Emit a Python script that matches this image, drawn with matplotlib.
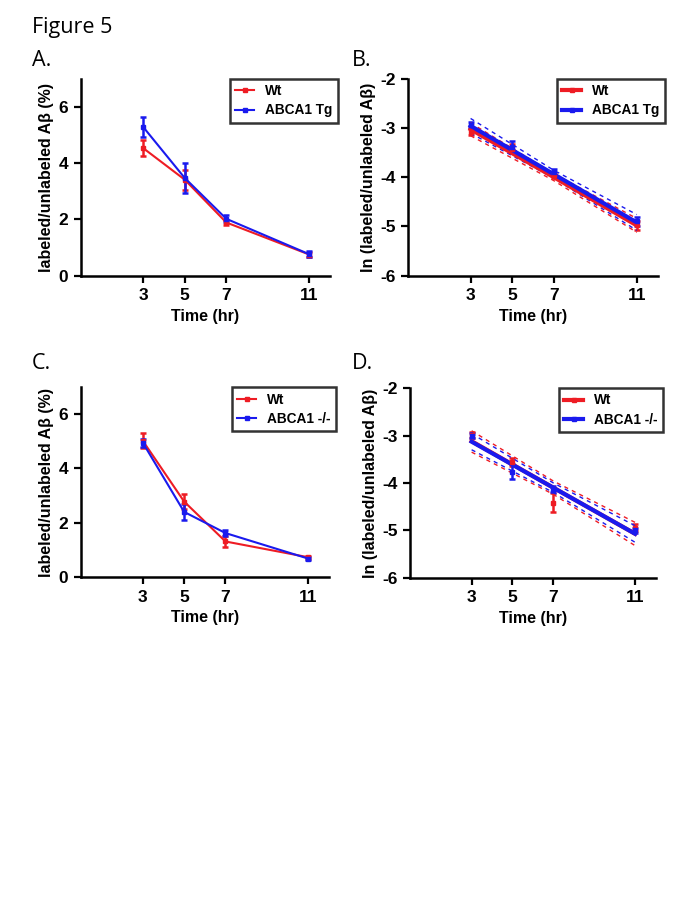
import matplotlib.pyplot as plt
from matplotlib.lines import Line2D

plt.rcParams['font.family'] = ['Liberation Sans', 'DejaVu Sans']
plt.rcParams['axes.unicode_minus'] = False

# time points
hours = [3, 5, 7, 11]

# A: % labeled/unlabeled, Wt vs ABCA1 Tg
a_wt = [4.53, 3.41, 1.89, 0.75]
a_wt_err = [0.28, 0.35, 0.10, 0.08]
a_tg = [5.28, 3.47, 2.02, 0.76]
a_tg_err = [0.34, 0.53, 0.13, 0.10]

# B: ln values, Wt vs ABCA1 Tg
b_wt = [-3.08, -3.42, -3.96, -4.98]
b_wt_err = [0.07, 0.10, 0.05, 0.10]
b_tg = [-2.95, -3.38, -3.90, -4.90]
b_tg_err = [0.06, 0.12, 0.06, 0.09]

# C: % labeled/unlabeled, Wt vs ABCA1 -/-
c_wt = [5.02, 2.78, 1.31, 0.73]
c_wt_err = [0.28, 0.27, 0.20, 0.06]
c_ko = [4.95, 2.40, 1.62, 0.68]
c_ko_err = [0.15, 0.30, 0.10, 0.05]

# D: ln values, Wt vs ABCA1 -/-
d_wt = [-2.99, -3.56, -4.42, -4.94]
d_wt_err = [0.06, 0.08, 0.20, 0.08]
d_ko = [-3.00, -3.76, -4.13, -5.00]
d_ko_err = [0.05, 0.15, 0.06, 0.06]

# regression lines and 95% bands read at x = 3, 7, 11
fit_x = [3, 7, 11]
b_wt_fit = [-3.03, -4.00, -4.98]
b_wt_lo = [-3.16, -4.07, -5.12]
b_wt_hi = [-2.90, -3.93, -4.84]
b_tg_fit = [-2.96, -3.94, -4.92]
b_tg_lo = [-3.11, -4.02, -5.08]
b_tg_hi = [-2.81, -3.86, -4.76]
d_wt_fit = [-3.12, -4.10, -5.07]
d_wt_lo = [-3.35, -4.24, -5.32]
d_wt_hi = [-2.90, -3.96, -4.83]
d_ko_fit = [-3.13, -4.10, -5.07]
d_ko_lo = [-3.30, -4.20, -5.25]
d_ko_hi = [-2.96, -4.00, -4.90]

RED = '#ee1c24'
BLUE = '#1a1aee'

fig = plt.figure(figsize=(6.85, 9.13), dpi=100)

fig.text(0.046, 0.970, 'Figure 5', fontsize=15.5, family='Open Sans', va='center')
for lab, x, y in [('A.', 0.046, 0.934), ('B.', 0.513, 0.934),
                  ('C.', 0.046, 0.602), ('D.', 0.513, 0.602)]:
    fig.text(x, y, lab, fontsize=15.5, family='Open Sans', va='center')


def style(ax, ylim, yticks, ylabel):
    ax.set_xlim(0, 12)
    ax.set_ylim(*ylim)
    ax.set_xticks(hours)
    ax.set_yticks(yticks)
    for s in ['top', 'right']:
        ax.spines[s].set_visible(False)
    for s in ['left', 'bottom']:
        ax.spines[s].set_linewidth(1.8)
    ax.tick_params(width=1.6, length=5, labelsize=12.5, pad=4)
    for t in ax.get_xticklabels() + ax.get_yticklabels():
        t.set_fontweight('bold')
    ax.set_xlabel('Time (hr)', fontsize=11.5, fontweight='bold', labelpad=4)
    ax.set_ylabel(ylabel, fontsize=11.5, fontweight='bold', labelpad=3)


def legend(ax, name2, lw):
    handles = [Line2D([], [], color=RED, lw=lw, marker='s', ms=2.5),
               Line2D([], [], color=BLUE, lw=lw, marker='s', ms=2.5)]
    leg = ax.legend(handles, ['Wt', name2], loc='upper right',
                    bbox_to_anchor=(1.03, 1.0), frameon=True, fancybox=False,
                    edgecolor='black', prop={'weight': 'bold', 'size': 9.8},
                    handlelength=1.4, borderpad=0.4, labelspacing=0.4,
                    handletextpad=0.8, borderaxespad=0)
    leg.get_frame().set_linewidth(1.8)


def pct_panel(rect, y1, e1, y2, e2, name2):
    ax = fig.add_axes(rect)
    ax.errorbar(hours, y1, yerr=e1, color=RED, lw=1.5, marker='s', ms=2.5,
                capsize=2.5, elinewidth=1.8, capthick=1.8)
    ax.errorbar(hours, y2, yerr=e2, color=BLUE, lw=1.5, marker='s', ms=2.5,
                capsize=2.5, elinewidth=1.8, capthick=1.8)
    style(ax, (0, 7), [0, 2, 4, 6], 'labeled/unlabeled A\u03b2 (%)')
    legend(ax, name2, 1.5)
    return ax


def ln_panel(rect, y1, e1, y2, e2, name2, f1, lo1, hi1, f2, lo2, hi2):
    ax = fig.add_axes(rect)
    ax.errorbar(hours, y1, yerr=e1, color=RED, lw=0, marker='s', ms=2.5,
                capsize=2, elinewidth=1.8, capthick=1.8)
    ax.errorbar(hours, y2, yerr=e2, color=BLUE, lw=0, marker='s', ms=2.5,
                capsize=2, elinewidth=1.8, capthick=1.8)
    for y in (lo1, hi1):
        ax.plot(fit_x, y, color=RED, lw=1, ls=(0, (3, 3)))
    for y in (lo2, hi2):
        ax.plot(fit_x, y, color=BLUE, lw=1, ls=(0, (3, 3)))
    ax.plot(fit_x, f1, color=RED, lw=3)
    ax.plot(fit_x, f2, color=BLUE, lw=3)
    style(ax, (-6, -2), [-6, -5, -4, -3, -2], 'ln (labeled/unlabeled A\u03b2)')
    legend(ax, name2, 3)
    return ax


pct_panel([0.118, 0.698, 0.364, 0.216], a_wt, a_wt_err, a_tg, a_tg_err, 'ABCA1 Tg')
ln_panel([0.596, 0.698, 0.364, 0.216], b_wt, b_wt_err, b_tg, b_tg_err, 'ABCA1 Tg',
         b_wt_fit, b_wt_lo, b_wt_hi, b_tg_fit, b_tg_lo, b_tg_hi)
pct_panel([0.118, 0.368, 0.362, 0.208], c_wt, c_wt_err, c_ko, c_ko_err, 'ABCA1 -/-')
ln_panel([0.599, 0.367, 0.358, 0.208], d_wt, d_wt_err, d_ko, d_ko_err, 'ABCA1 -/-',
         d_wt_fit, d_wt_lo, d_wt_hi, d_ko_fit, d_ko_lo, d_ko_hi)

plt.savefig('out.png', dpi=100)
